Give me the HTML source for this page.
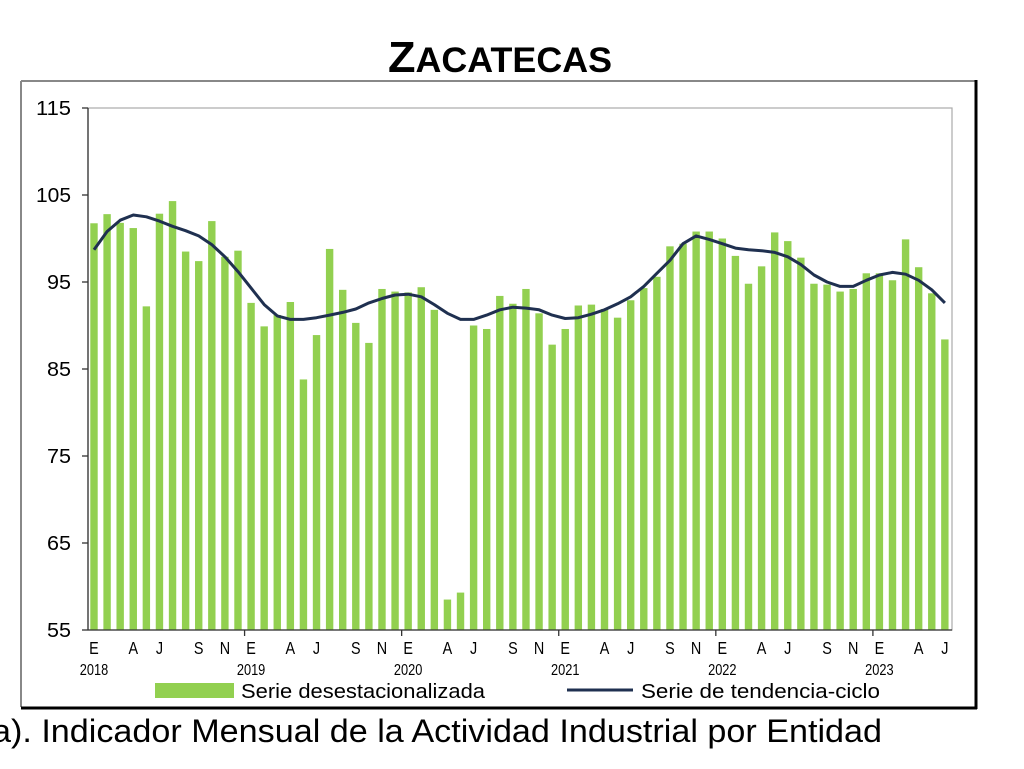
<!DOCTYPE html>
<html><head><meta charset="utf-8"><style>
html,body{margin:0;padding:0;background:#fff;width:1024px;height:769px;overflow:hidden}
svg{display:block}
text{font-family:"Liberation Sans",Arial,sans-serif}
</style></head><body>
<svg width="1024" height="769" viewBox="0 0 1024 769" xmlns="http://www.w3.org/2000/svg">
<text x="500" y="72" text-anchor="middle" font-weight="bold" fill="#000" textLength="224" lengthAdjust="spacingAndGlyphs"><tspan font-size="44">Z</tspan><tspan font-size="35">ACATECAS</tspan></text>
<line x1="21" y1="81" x2="975" y2="81" stroke="#888" stroke-width="2"/>
<line x1="21" y1="81" x2="21" y2="707" stroke="#888" stroke-width="2"/>
<line x1="976" y1="80" x2="976" y2="709" stroke="#000" stroke-width="3"/>
<line x1="21" y1="708" x2="977" y2="708" stroke="#000" stroke-width="3"/>
<rect x="88" y="108" width="864" height="522" fill="none" stroke="#aaa" stroke-width="1.2"/>
<g id="bars" fill="#92d050"></g>
<polyline id="trend" fill="none" stroke="#1f3050" stroke-width="3" stroke-linejoin="round"/>
<line x1="88" y1="108" x2="88" y2="630" stroke="#333" stroke-width="1.3"/>
<line x1="88" y1="630" x2="952" y2="630" stroke="#333" stroke-width="1.3"/>
<g stroke="#333" stroke-width="1.3">
<line x1="82" y1="108" x2="88" y2="108"/><line x1="82" y1="195" x2="88" y2="195"/><line x1="82" y1="282" x2="88" y2="282"/><line x1="82" y1="369" x2="88" y2="369"/><line x1="82" y1="456" x2="88" y2="456"/><line x1="82" y1="543" x2="88" y2="543"/><line x1="82" y1="630" x2="88" y2="630"/>
</g>
<g font-size="20" text-anchor="end" fill="#000" lengthAdjust="spacingAndGlyphs">
<text x="71" y="115" textLength="35" lengthAdjust="spacingAndGlyphs">115</text>
<text x="71" y="202" textLength="35" lengthAdjust="spacingAndGlyphs">105</text>
<text x="71" y="289" textLength="24" lengthAdjust="spacingAndGlyphs">95</text>
<text x="71" y="376" textLength="24" lengthAdjust="spacingAndGlyphs">85</text>
<text x="71" y="463" textLength="24" lengthAdjust="spacingAndGlyphs">75</text>
<text x="71" y="550" textLength="24" lengthAdjust="spacingAndGlyphs">65</text>
<text x="71" y="637" textLength="24" lengthAdjust="spacingAndGlyphs">55</text>
</g>
<g id="xt" stroke="#333" stroke-width="1.3"></g>
<g id="xl" text-anchor="middle" fill="#000"></g>
<rect x="155" y="683" width="79" height="15" fill="#92d050"/>
<text x="241" y="698" font-size="20" textLength="244" lengthAdjust="spacingAndGlyphs">Serie desestacionalizada</text>
<line x1="567" y1="690" x2="633" y2="690" stroke="#1f3050" stroke-width="3"/>
<text x="641" y="698" font-size="20" textLength="239" lengthAdjust="spacingAndGlyphs">Serie de tendencia-ciclo</text>
<text x="-8" y="742" font-size="32" fill="#000" textLength="890" lengthAdjust="spacingAndGlyphs">a). Indicador Mensual de la Actividad Industrial por Entidad</text>
</svg>
<script>
var bars=[101.75,102.8,101.8,101.2,92.2,102.85,104.3,98.5,97.4,102.0,97.9,98.6,
92.6,89.9,91.2,92.7,83.8,88.9,98.8,94.1,90.3,88.0,94.2,93.9,
93.8,94.4,91.8,58.5,59.3,90.0,89.6,93.4,92.5,94.2,91.4,87.8,
89.6,92.3,92.4,91.9,90.9,92.9,94.3,95.6,99.1,99.4,100.8,100.8,
100.0,98.0,94.8,96.8,100.7,99.7,97.8,94.8,94.7,93.9,94.2,96.0,
96.0,95.2,99.9,96.7,93.7,88.4];
var tr=[98.7,100.8,102.1,102.7,102.5,102.0,101.4,100.9,100.3,99.3,97.9,96.2,
94.3,92.4,91.1,90.7,90.7,90.9,91.2,91.5,91.9,92.6,93.1,93.5,
93.6,93.3,92.4,91.4,90.7,90.7,91.2,91.8,92.1,92.0,91.8,91.2,
90.8,90.9,91.3,91.8,92.5,93.3,94.5,96.0,97.5,99.4,100.3,99.9,
99.4,98.9,98.7,98.6,98.4,97.9,97.0,95.8,95.0,94.5,94.5,95.2,
95.8,96.1,95.9,95.2,94.1,92.6];
function Y(v){return 108+(115-v)*8.7;}
function X(i){return 94+i*13.09;}
var ns="http://www.w3.org/2000/svg",g=document.getElementById('bars');
bars.forEach(function(v,i){var r=document.createElementNS(ns,'rect');r.setAttribute('x',X(i)-3.7);r.setAttribute('y',Y(v));r.setAttribute('width',7.4);r.setAttribute('height',630-Y(v));g.appendChild(r);});
document.getElementById('trend').setAttribute('points',tr.map(function(v,i){return X(i).toFixed(1)+','+Y(v).toFixed(1)}).join(' '));
var xt=document.getElementById('xt'),xl=document.getElementById('xl');
var m={0:'E',3:'A',5:'J',8:'S',10:'N'};
for(var i=0;i<66;i++){var k=i%12;if(m[k]!==undefined){var t=document.createElementNS(ns,'text');t.setAttribute('x',X(i));t.setAttribute('y',654);t.setAttribute('font-size','18');t.setAttribute('transform','translate('+X(i)+',0) scale(0.8,1) translate('+(-X(i))+',0)');t.textContent=m[k];xl.appendChild(t);}
 if(k==0){var y=document.createElementNS(ns,'text');y.setAttribute('x',X(i));y.setAttribute('y',675);y.setAttribute('font-size','16');y.setAttribute('transform','translate('+X(i)+',0) scale(0.8,1) translate('+(-X(i))+',0)');y.textContent=2018+i/12;xl.appendChild(y);
 if(i>0){var l=document.createElementNS(ns,'line');var xx=X(i)-6.5;l.setAttribute('x1',xx);l.setAttribute('x2',xx);l.setAttribute('y1',630);l.setAttribute('y2',636);xt.appendChild(l);}}}
</script>
</body></html>
